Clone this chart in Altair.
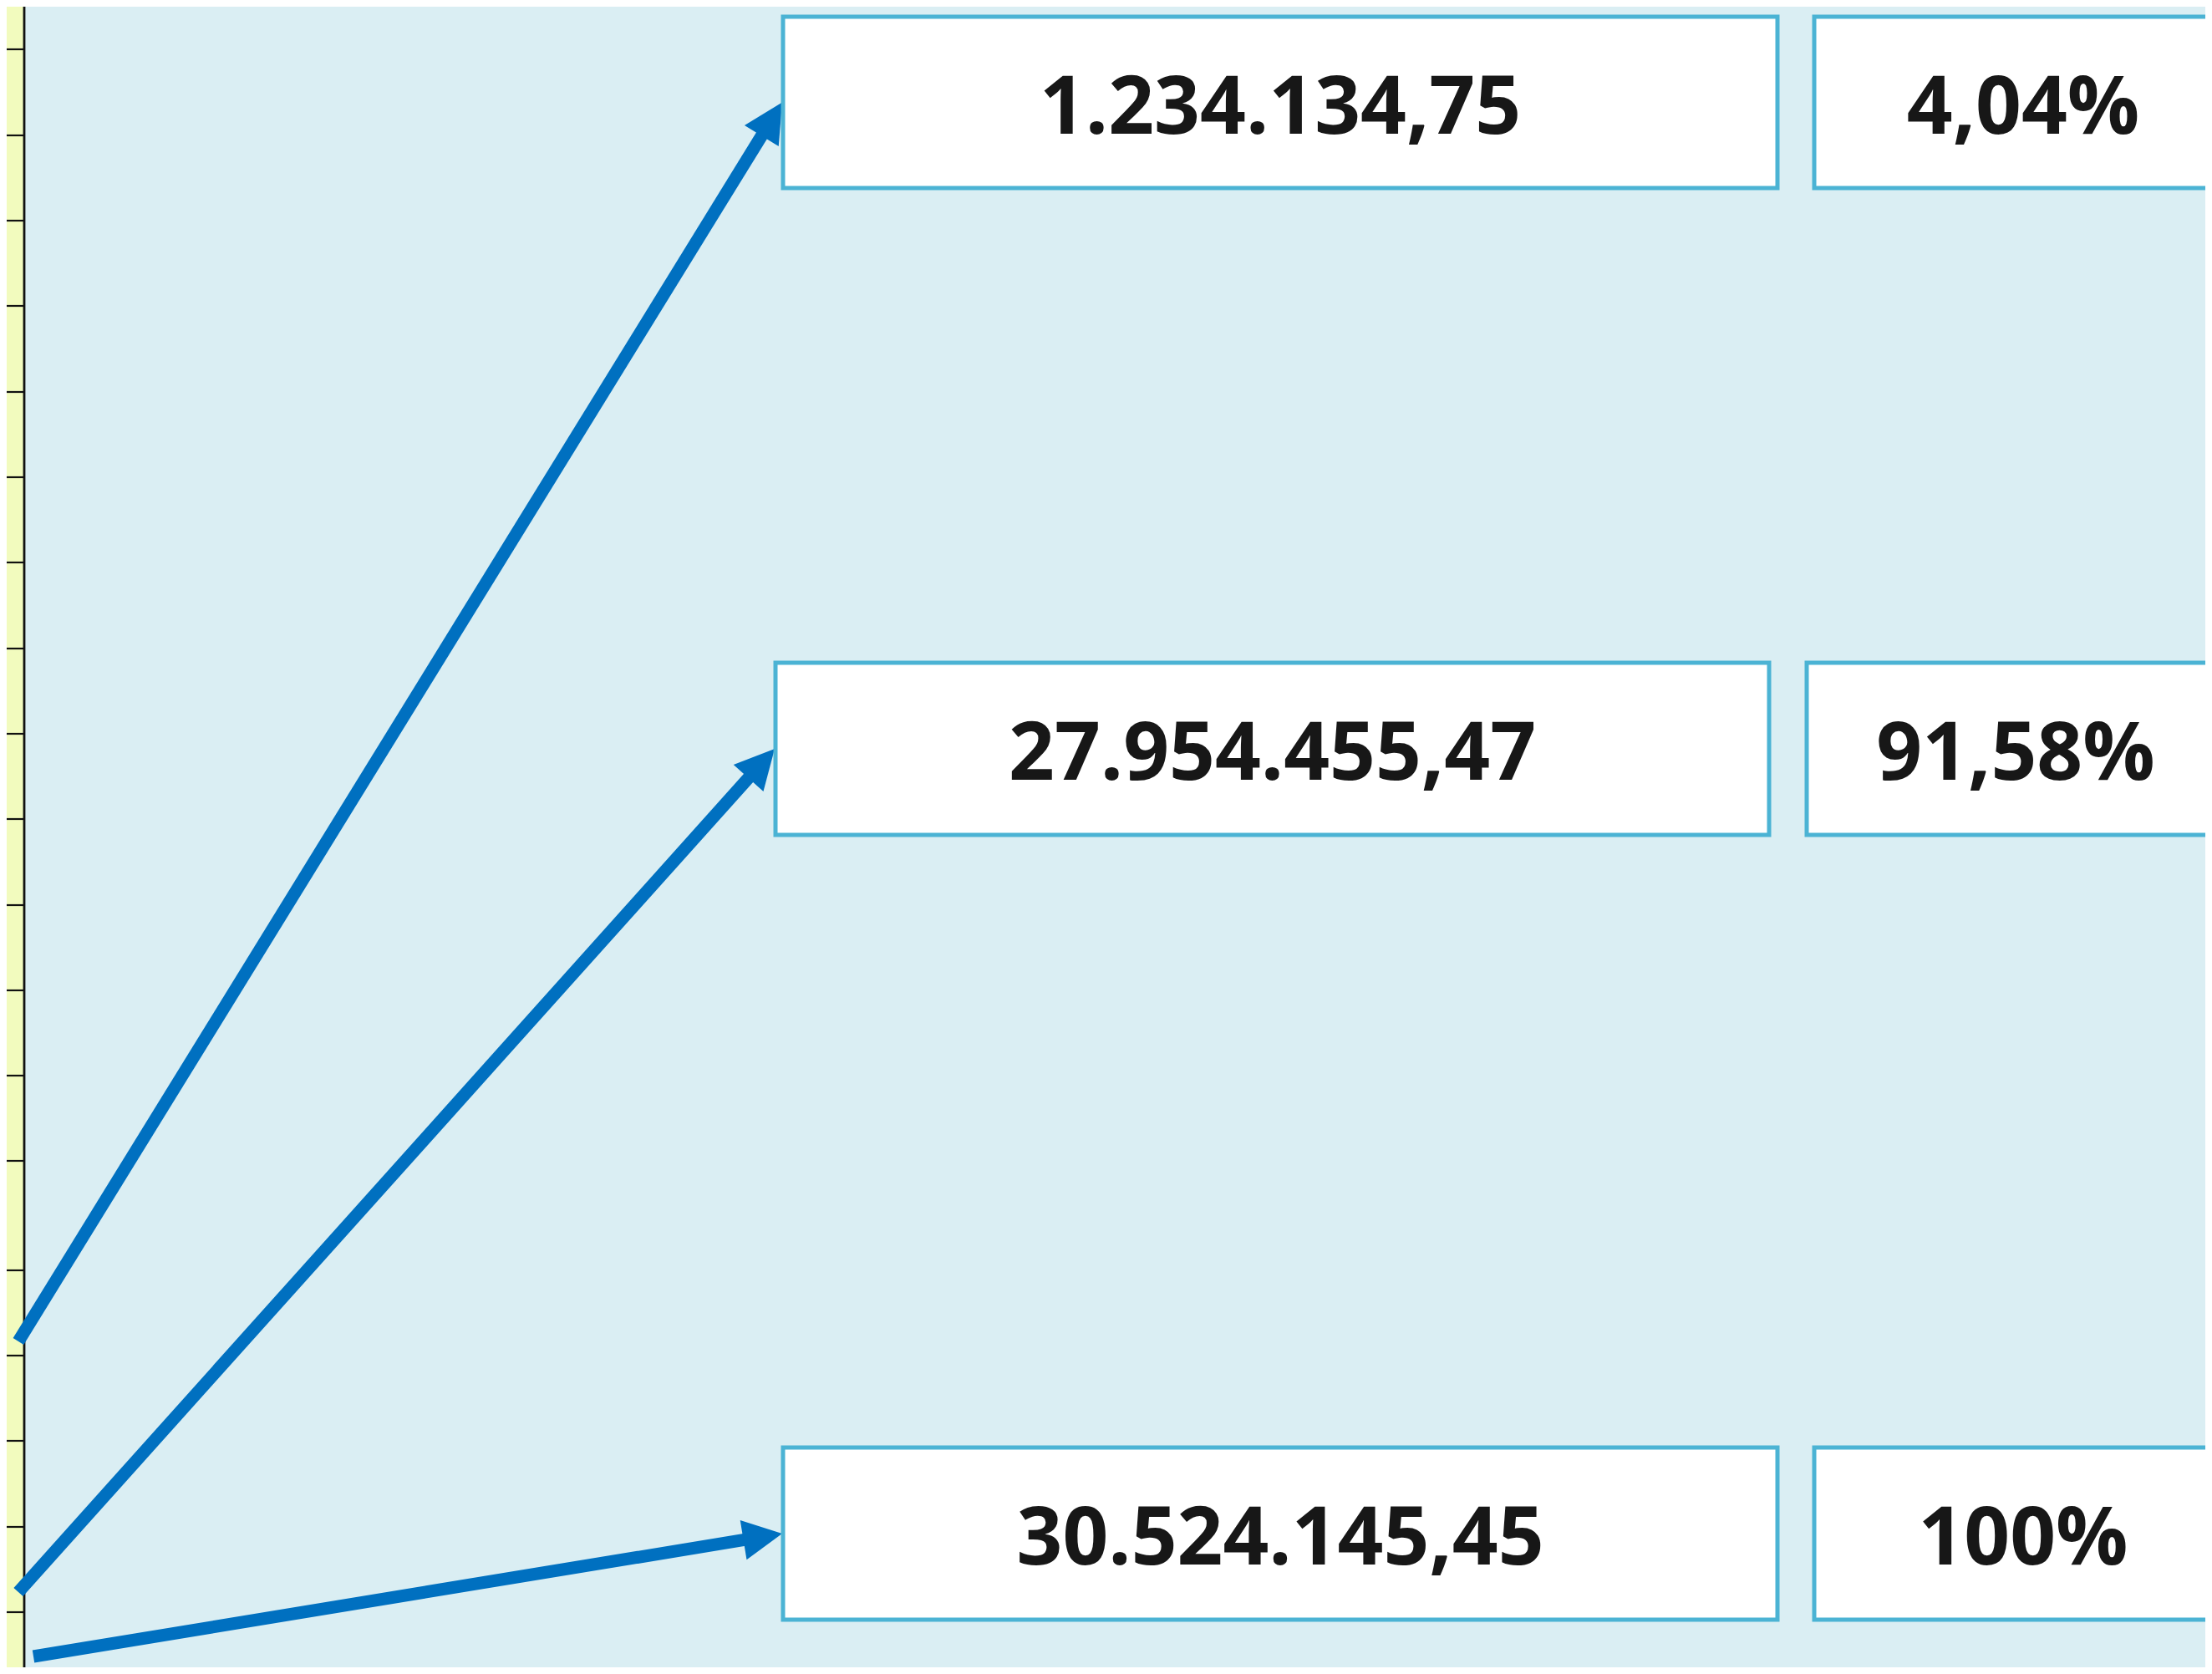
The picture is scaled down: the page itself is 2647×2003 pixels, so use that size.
import math
import altair as alt
import pandas as pd

# ---- chart content -------------------------------------------------------
values = ["1.234.134,75", "27.954.455,47", "30.524.145,45"]
percents = ["4,04%", "91,58%", "100%"]

# ---- layout (reference pixel grid, y grows downward) ---------------------
box_top = [20, 793, 1732]
box_bottom = [225, 999, 1938]
value_left = [937, 928, 937]
value_right = [2127, 2117, 2127]
pct_left = [2171, 2162, 2171]
pct_right = [2671, 2662, 2671]
arrow_tail_x = [22, 22, 40]
arrow_tail_y = [1605, 1905, 1982]
row_lines = [59, 162, 264, 366, 469, 571, 673, 776, 878, 980, 1083,
             1185, 1287, 1389, 1520, 1622, 1724, 1827, 1929]
strip_edge = 29

BG = "#DAEEF3"
STRIP = "#F2FBBE"
BORDER = "#4BB3D4"
ARROW = "#0070C0"
TEXT = "#171717"

W, H = 2631, 1987
xs = alt.Scale(domain=[8, 8 + W], nice=False, zero=False)
ys = alt.Scale(domain=[8, 8 + H], nice=False, zero=False, reverse=True)

rows = pd.DataFrame({
    "value": values,
    "pct": percents,
    "top": box_top,
    "bottom": box_bottom,
    "vl": value_left,
    "vr": value_right,
    "pl": pct_left,
    "pr": pct_right,
    "tx": arrow_tail_x,
    "ty": arrow_tail_y,
})
rows["mid"] = (rows["top"] + rows["bottom"]) / 2
rows["vc"] = (rows["vl"] + rows["vr"]) / 2
rows["pc"] = (rows["pl"] + rows["pr"]) / 2
rows["base"] = rows["mid"] + 37
# arrow geometry: tip sits on the left edge of the value box
rows["hx"] = rows["vl"] - 1
rows["hy"] = rows["mid"]
ang = [math.atan2(hy - ty, hx - tx) for hx, hy, tx, ty in
       zip(rows["hx"], rows["hy"], rows["tx"], rows["ty"])]
rows["ang"] = [(math.degrees(a)) % 360 for a in ang]
rows["ex"] = [hx - 32 * math.cos(a) for hx, a in zip(rows["hx"], ang)]
rows["ey"] = [hy - 32 * math.sin(a) for hy, a in zip(rows["hy"], ang)]

base = alt.Chart(rows)

strip_df = pd.DataFrame({"x": [0], "x2": [strip_edge], "y": [0], "y2": [2003]})
strip = alt.Chart(strip_df).mark_rect(fill=STRIP, clip=True).encode(
    x=alt.X("x:Q", scale=xs, axis=None), x2="x2:Q",
    y=alt.Y("y:Q", scale=ys, axis=None), y2="y2:Q")

lines_df = pd.DataFrame({"y": row_lines, "x": 0, "x2": strip_edge})
strip_lines = alt.Chart(lines_df).mark_rule(color="#111111", strokeWidth=2.2, clip=True).encode(
    x=alt.X("x:Q", scale=xs, axis=None), x2="x2:Q",
    y=alt.Y("y:Q", scale=ys, axis=None))

edge = alt.Chart(strip_df).mark_rule(color="#111111", strokeWidth=2.8, clip=True).encode(
    x=alt.X("x2:Q", scale=xs, axis=None),
    y=alt.Y("y:Q", scale=ys, axis=None), y2="y2:Q")

shafts = base.mark_rule(color=ARROW, strokeWidth=15, strokeCap="butt", clip=True).encode(
    x=alt.X("tx:Q", scale=xs, axis=None), x2="ex:Q",
    y=alt.Y("ty:Q", scale=ys, axis=None), y2="ey:Q")

heads = base.mark_point(shape="M0,0L-2,-1.02L-2,1.02Z", filled=True, fill=ARROW,
                        opacity=1, strokeWidth=0, size=2209, clip=True).encode(
    x=alt.X("hx:Q", scale=xs, axis=None),
    y=alt.Y("hy:Q", scale=ys, axis=None),
    angle=alt.Angle("ang:Q", scale=None))

vbox = base.mark_rect(fill="white", stroke=BORDER, strokeWidth=5, clip=True).encode(
    x=alt.X("vl:Q", scale=xs, axis=None), x2="vr:Q",
    y=alt.Y("top:Q", scale=ys, axis=None), y2="bottom:Q")

pbox = base.mark_rect(fill="white", stroke=BORDER, strokeWidth=5, clip=True).encode(
    x=alt.X("pl:Q", scale=xs, axis=None), x2="pr:Q",
    y=alt.Y("top:Q", scale=ys, axis=None), y2="bottom:Q")

text_style = dict(font="Open Sans", fontWeight="bold", fontSize=96, color=TEXT,
                  align="center", baseline="alphabetic")

vtext = base.mark_text(**text_style).encode(
    x=alt.X("vc:Q", scale=xs, axis=None),
    y=alt.Y("base:Q", scale=ys, axis=None),
    text="value:N")

ptext = base.mark_text(**text_style).encode(
    x=alt.X("pc:Q", scale=xs, axis=None),
    y=alt.Y("base:Q", scale=ys, axis=None),
    text="pct:N")

chart = alt.layer(strip, strip_lines, edge, shafts, heads, vbox, pbox, vtext, ptext).properties(
    width=W, height=H,
    autosize=alt.AutoSizeParams(type="none"),
    padding=0,
    background=BG,
).configure_view(stroke=None)

chart.save("out.html", embed_options={"renderer": "svg", "actions": False})
